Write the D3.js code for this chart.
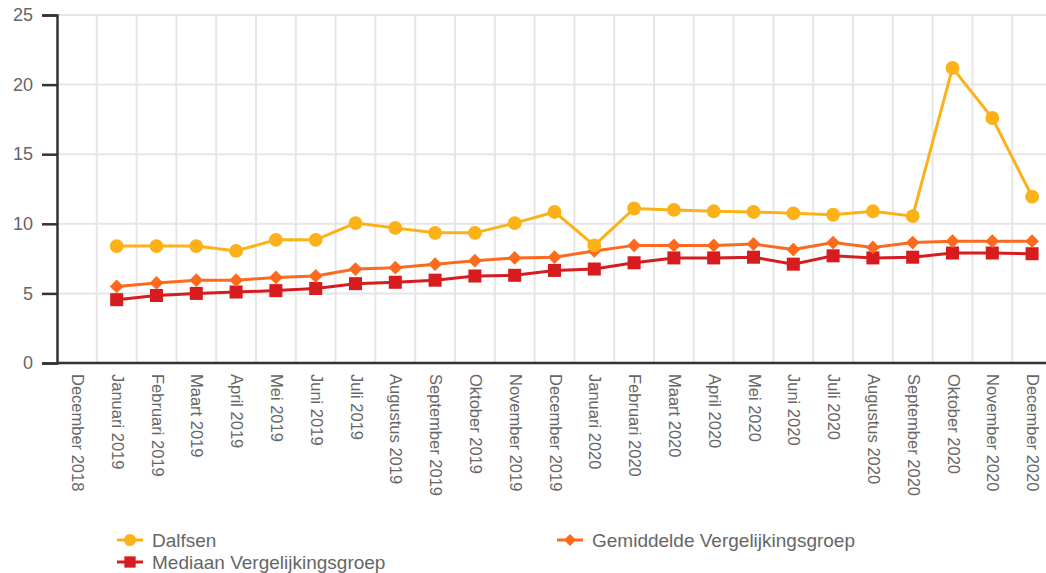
<!DOCTYPE html>
<html>
<head>
<meta charset="utf-8">
<script src="https://cdn.jsdelivr.net/npm/d3@7"></script>
<style>
  body { margin: 0; background: #fff; }
  svg { font-family: "Liberation Sans", Arial, sans-serif; }
</style>
</head>
<body>
<svg width="1046" height="573"></svg>
<script>
// categories on the x axis
var months = ["December 2018", "Januari 2019", "Februari 2019", "Maart 2019", "April 2019", "Mei 2019",
  "Juni 2019", "Juli 2019", "Augustus 2019", "September 2019", "Oktober 2019", "November 2019",
  "December 2019", "Januari 2020", "Februari 2020", "Maart 2020", "April 2020", "Mei 2020",
  "Juni 2020", "Juli 2020", "Augustus 2020", "September 2020", "Oktober 2020", "November 2020",
  "December 2020"];

// series (December 2018 has no value)
var dalfsen = [null, 8.4, 8.4, 8.4, 8.05, 8.85, 8.85, 10.05, 9.7, 9.35, 9.35, 10.05, 10.85,
  8.45, 11.1, 11.0, 10.9, 10.85, 10.75, 10.65, 10.9, 10.55, 21.2, 17.6, 11.95];
var gemiddelde = [null, 5.5, 5.75, 5.95, 5.95, 6.15, 6.25, 6.75, 6.85, 7.1, 7.35, 7.55, 7.6,
  8.05, 8.45, 8.45, 8.45, 8.55, 8.15, 8.65, 8.3, 8.65, 8.75, 8.75, 8.75];
var mediaan = [null, 4.55, 4.85, 5.0, 5.1, 5.2, 5.35, 5.7, 5.8, 5.95, 6.25, 6.3, 6.65,
  6.75, 7.2, 7.55, 7.55, 7.6, 7.1, 7.7, 7.55, 7.6, 7.9, 7.9, 7.85];

var yTicks = [0, 5, 10, 15, 20, 25];

var svg = d3.select("svg");
var plotLeft = 57, plotRight = 1052, plotTop = 15, plotBottom = 363;

var x = d3.scaleBand().domain(months).range([plotLeft, plotRight]);
var y = d3.scaleLinear().domain([0, 25]).range([plotBottom, plotTop]);

// grid
var grid = svg.append("g");
grid.selectAll("line.h").data(yTicks).enter().append("line")
  .attr("x1", plotLeft).attr("x2", 1046)
  .attr("y1", function(d) { return y(d); }).attr("y2", function(d) { return y(d); })
  .attr("stroke", "#e6e6e6").attr("stroke-width", 2);
grid.selectAll("line.v").data(months.slice(1)).enter().append("line")
  .attr("x1", function(d) { return x(d); }).attr("x2", function(d) { return x(d); })
  .attr("y1", plotTop).attr("y2", plotBottom)
  .attr("stroke", "#e6e6e6").attr("stroke-width", 2);

// y axis
var yAxis = svg.append("g").attr("transform", "translate(" + plotLeft + ",0)")
  .call(d3.axisLeft(y).tickValues(yTicks).tickSize(15).tickPadding(9));
yAxis.select(".domain").attr("stroke", "#333").attr("stroke-width", 2.5);
yAxis.selectAll(".tick line").attr("stroke", "#333").attr("stroke-width", 2.5);
yAxis.selectAll("text").attr("fill", "#666").style("font-size", "18px");

// x axis
var xAxis = svg.append("g").attr("transform", "translate(0," + plotBottom + ")")
  .call(d3.axisBottom(x).tickSize(0).tickPadding(0));
xAxis.select(".domain").attr("d", "M" + plotLeft + ",0H1046").attr("stroke", "#333").attr("stroke-width", 2.5);
xAxis.selectAll("text")
  .attr("fill", "#666").style("font-size", "16.5px")
  .attr("text-anchor", "start")
  .attr("dy", null)
  .attr("transform", "translate(-5,11) rotate(90)");

// diamond = square turned 45 degrees
var series = [
  { name: "Dalfsen", values: dalfsen, color: "#fbb117", shape: d3.symbolCircle, size: 150, rot: 0 },
  { name: "Gemiddelde Vergelijkingsgroep", values: gemiddelde, color: "#fc6a1e", shape: d3.symbolSquare, size: 95, rot: 45 },
  { name: "Mediaan Vergelijkingsgroep", values: mediaan, color: "#d71c20", shape: d3.symbolSquare, size: 170, rot: 0 }
];

var line = d3.line()
  .defined(function(d) { return d != null; })
  .x(function(d, i) { return x(months[i]) + x.bandwidth() / 2; })
  .y(function(d) { return y(d); });

series.slice().reverse().forEach(function(s) {
  var g = svg.append("g");
  g.append("path").attr("d", line(s.values))
    .attr("fill", "none").attr("stroke", s.color).attr("stroke-width", 3);
  g.selectAll("path.pt").data(s.values.map(function(v, i) { return { v: v, i: i }; })
      .filter(function(d) { return d.v != null; }))
    .enter().append("path")
    .attr("d", d3.symbol().type(s.shape).size(s.size))
    .attr("transform", function(d) {
      return "translate(" + (x(months[d.i]) + x.bandwidth() / 2) + "," + y(d.v) + ") rotate(" + s.rot + ")";
    })
    .attr("fill", s.color);
});

// legend
var legendPos = [[117, 540], [557, 540], [117, 562]];
series.forEach(function(s, k) {
  var g = svg.append("g").attr("transform", "translate(" + legendPos[k][0] + "," + legendPos[k][1] + ")");
  g.append("line").attr("x1", 0).attr("x2", 26).attr("stroke", s.color).attr("stroke-width", 3);
  g.append("path").attr("d", d3.symbol().type(s.shape).size(s.size * 0.75))
    .attr("transform", "translate(13,0) rotate(" + s.rot + ")").attr("fill", s.color);
  g.append("text").attr("x", 35).attr("y", 7).text(s.name)
    .attr("fill", "#666").style("font-size", "19px");
});
</script>
</body>
</html>
